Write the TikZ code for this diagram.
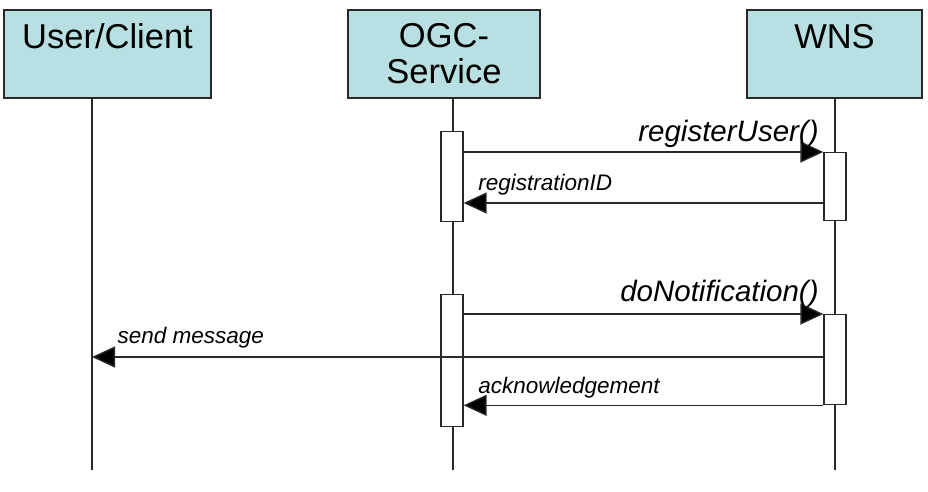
\documentclass[tikz,border=0pt]{standalone}
\usepackage{fontspec}
\setmainfont{Liberation Sans}
\usepackage{tikz}
\usetikzlibrary{arrows.meta, positioning}
\definecolor{headfill}{RGB}{184,223,226}
\definecolor{linegray}{RGB}{40,40,40}

\begin{document}
\begin{tikzpicture}[
    x=1pt, y=-1pt,
    head/.style={draw=linegray, fill=headfill, rectangle, line width=1.8pt, minimum height=88pt, align=center, font=\fontsize{34.5}{36}\selectfont, inner sep=0pt},
    act/.style={draw=linegray, fill=white, rectangle, line width=1.3pt, minimum width=22pt, anchor=north, inner sep=0pt},
    life/.style={draw=linegray, line width=1.4pt},
    msg/.style={draw=linegray, line width=1.4pt, -{Triangle[length=23pt, width=21pt, fill=black]}},
    biglabel/.style={font=\fontsize{29.5}{30}\selectfont\itshape, inner sep=0pt},
    smalllabel/.style={font=\fontsize{22.5}{24}\selectfont\itshape, inner sep=0pt}
]
    \useasboundingbox (0,0) rectangle (928,492);

    % Heads
    \node (user) [head, minimum width=207pt] at (107.5,54) {User/Client\\\mbox{}};
    \node (ogc) [head, minimum width=192pt] at (444,54) {OGC-\\Service};
    \node (wns) [head, minimum width=175pt] at (834.5,54) {WNS\\\mbox{}};

    % Lifelines
    \coordinate (userend) at (92,470);
    \coordinate (ogcend) at (453,470);
    \coordinate (wnsend) at (835,470);
    \draw [life] (user.south -| userend) -- (userend);
    \draw [life] (ogc.south -| ogcend) -- (ogcend);
    \draw [life] (wns.south -| wnsend) -- (wnsend);

    % Activations
    \node (ogcA) [act, minimum height=90pt] at (452,131) {};
    \node (ogcB) [act, minimum height=132pt] at (452,294) {};
    \node (wnsA) [act, minimum height=68pt] at (835,152) {};
    \node (wnsB) [act, minimum height=90pt] at (835,314) {};

    % Messages
    \coordinate (regid) at (824,203);
    \coordinate (sendmsg) at (824,357);
    \draw [msg] (ogcA.east |- wnsA.north west) -- (wnsA.north west)
        node [biglabel, pos=1, anchor=base east, xshift=-4pt, yshift=10pt] {registerUser()};
    \draw [msg] (regid) -- (ogcA.east |- regid)
        node [smalllabel, pos=1, anchor=base west, xshift=14pt, yshift=13pt] {registrationID};
    \draw [msg] (ogcB.east |- wnsB.north west) -- (wnsB.north west)
        node [biglabel, pos=1, anchor=base east, xshift=-4pt, yshift=13pt] {doNotification()};
    \draw [msg] (sendmsg) -- (sendmsg -| userend)
        node [smalllabel, pos=1, anchor=base west, xshift=25pt, yshift=14pt] {send message};
    \draw [msg] (wnsB.south west) -- (ogcB.east |- wnsB.south west)
        node [smalllabel, pos=1, anchor=base west, xshift=14pt, yshift=12pt] {acknowledgement};
\end{tikzpicture}
\end{document}
